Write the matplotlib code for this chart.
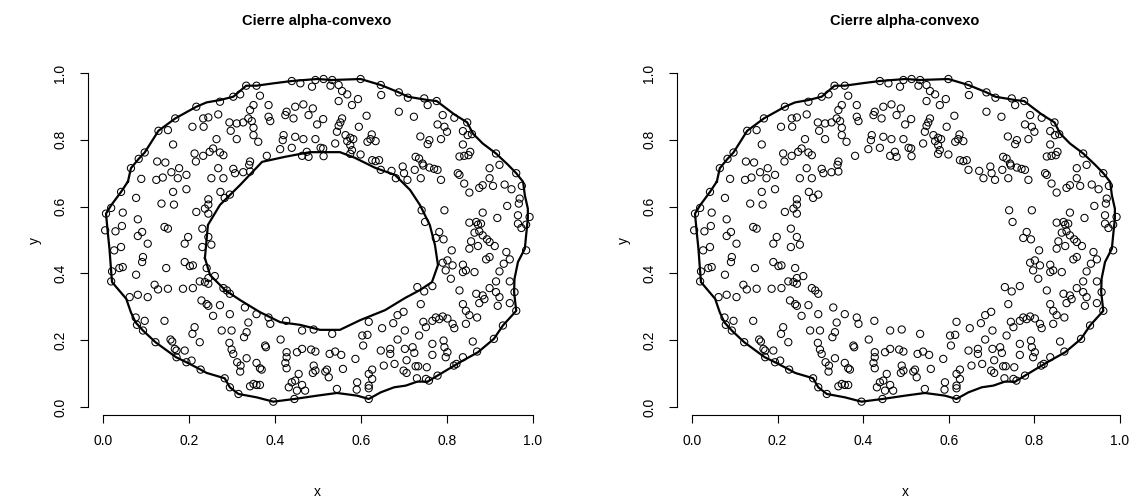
import matplotlib
matplotlib.use('Agg')
import matplotlib.pyplot as plt

plt.rcParams['font.family'] = ['Liberation Sans', 'DejaVu Sans']

title_text = 'Cierre alpha-convexo'
x_label = 'x'
y_label = 'y'
tick_values = [0.0, 0.2, 0.4, 0.6, 0.8, 1.0]
tick_labels = ['0.0', '0.2', '0.4', '0.6', '0.8', '1.0']

# sample points, grouped by region (x, y)
pts_upper_left = [
    (0.217, 0.899), (0.233, 0.864), (0.234, 0.839), (0.208, 0.839), (0.168, 0.864),
    (0.151, 0.829), (0.129, 0.827), (0.163, 0.786), (0.213, 0.759), (0.233, 0.752),
    (0.216, 0.735), (0.126, 0.735), (0.145, 0.732), (0.097, 0.762), (0.083, 0.743),
    (0.065, 0.715), (0.177, 0.715), (0.159, 0.703), (0.194, 0.695), (0.139, 0.687),
    (0.124, 0.680), (0.089, 0.683), (0.174, 0.685),
]
pts_upper_mid = [
    (0.333, 0.962), (0.357, 0.962), (0.439, 0.976), (0.459, 0.969), (0.486, 0.959),
    (0.494, 0.979), (0.272, 0.914), (0.303, 0.929), (0.319, 0.936), (0.365, 0.932),
    (0.342, 0.889), (0.350, 0.904), (0.385, 0.904), (0.427, 0.884), (0.447, 0.899),
    (0.466, 0.906), (0.488, 0.894), (0.478, 0.874), (0.245, 0.867), (0.268, 0.876),
    (0.294, 0.852), (0.311, 0.849), (0.326, 0.852), (0.338, 0.864), (0.346, 0.856),
    (0.385, 0.869), (0.389, 0.856), (0.424, 0.874), (0.443, 0.864), (0.297, 0.827),
    (0.350, 0.836), (0.498, 0.846), (0.311, 0.802), (0.350, 0.814), (0.361, 0.794),
    (0.420, 0.814), (0.418, 0.799), (0.447, 0.809), (0.466, 0.802), (0.494, 0.802),
    (0.264, 0.802), (0.256, 0.774), (0.248, 0.764), (0.272, 0.762), (0.280, 0.754),
    (0.412, 0.772), (0.439, 0.776), (0.474, 0.764), (0.463, 0.752), (0.478, 0.749),
    (0.381, 0.752), (0.342, 0.735), (0.340, 0.725), (0.268, 0.715), (0.303, 0.713),
    (0.307, 0.700), (0.326, 0.703), (0.342, 0.705), (0.252, 0.685), (0.280, 0.685),
]
pts_upper_right = [
    (0.513, 0.982), (0.533, 0.979), (0.599, 0.982), (0.646, 0.964), (0.688, 0.942),
    (0.709, 0.926), (0.747, 0.924), (0.529, 0.962), (0.548, 0.964), (0.556, 0.946),
    (0.568, 0.936), (0.548, 0.916), (0.579, 0.904), (0.593, 0.922), (0.647, 0.934),
    (0.613, 0.872), (0.688, 0.884), (0.723, 0.869), (0.512, 0.862), (0.556, 0.864),
    (0.552, 0.852), (0.548, 0.842), (0.595, 0.839), (0.544, 0.824), (0.564, 0.814),
    (0.575, 0.806), (0.582, 0.802), (0.568, 0.796), (0.540, 0.789), (0.575, 0.784),
    (0.625, 0.816), (0.622, 0.802), (0.634, 0.796), (0.615, 0.794), (0.738, 0.810),
    (0.506, 0.776), (0.512, 0.774), (0.513, 0.751), (0.579, 0.769), (0.575, 0.758),
    (0.599, 0.756), (0.626, 0.739), (0.642, 0.739), (0.634, 0.736), (0.727, 0.749),
    (0.735, 0.744), (0.743, 0.729), (0.646, 0.710), (0.671, 0.707), (0.697, 0.720),
    (0.700, 0.700), (0.725, 0.710), (0.745, 0.723), (0.681, 0.685), (0.708, 0.680),
    (0.739, 0.685),
]
pts_top_right = [
    (0.776, 0.916), (0.755, 0.904), (0.790, 0.874), (0.817, 0.866), (0.847, 0.852),
    (0.837, 0.826), (0.848, 0.814), (0.858, 0.817), (0.778, 0.846), (0.794, 0.839),
    (0.800, 0.824), (0.786, 0.802), (0.759, 0.799), (0.755, 0.787), (0.837, 0.786),
    (0.854, 0.764), (0.850, 0.754), (0.840, 0.752), (0.829, 0.750), (0.914, 0.759),
    (0.922, 0.725), (0.899, 0.715), (0.961, 0.700), (0.759, 0.717), (0.770, 0.713),
    (0.778, 0.710), (0.825, 0.700), (0.829, 0.695), (0.786, 0.680), (0.899, 0.685),
]
pts_mid_left = [
    (0.042, 0.644), (0.163, 0.644), (0.194, 0.652), (0.077, 0.626), (0.136, 0.609),
    (0.165, 0.606), (0.217, 0.584), (0.237, 0.594), (0.007, 0.579), (0.019, 0.596),
    (0.046, 0.582), (0.081, 0.562), (0.143, 0.539), (0.151, 0.534), (0.005, 0.529),
    (0.029, 0.526), (0.044, 0.542), (0.091, 0.524), (0.081, 0.512), (0.104, 0.489),
    (0.198, 0.509), (0.190, 0.489), (0.231, 0.534), (0.231, 0.479), (0.026, 0.469),
    (0.042, 0.479), (0.093, 0.449), (0.091, 0.434), (0.147, 0.416), (0.190, 0.434),
    (0.202, 0.422), (0.209, 0.424), (0.021, 0.406), (0.038, 0.416), (0.046, 0.419),
    (0.077, 0.396), (0.241, 0.416), (0.019, 0.376), (0.120, 0.366), (0.128, 0.352),
    (0.151, 0.354), (0.186, 0.354), (0.209, 0.356), (0.225, 0.376), (0.237, 0.374),
    (0.081, 0.336), (0.104, 0.329), (0.062, 0.329),
    (0.273, 0.644), (0.283, 0.626), (0.295, 0.636), (0.245, 0.622), (0.245, 0.606),
    (0.245, 0.579), (0.245, 0.509), (0.252, 0.486), (0.245, 0.386), (0.260, 0.392),
    (0.245, 0.369), (0.280, 0.356), (0.288, 0.349), (0.295, 0.339),
]
pts_mid_right = [
    (0.741, 0.589), (0.749, 0.554), (0.731, 0.359), (0.747, 0.346),
    (0.840, 0.669), (0.852, 0.642), (0.875, 0.656), (0.883, 0.664), (0.907, 0.662),
    (0.934, 0.666), (0.950, 0.652), (0.974, 0.662), (0.969, 0.624), (0.967, 0.609),
    (0.940, 0.602), (0.992, 0.569), (0.794, 0.589), (0.883, 0.582), (0.917, 0.566),
    (0.965, 0.574), (0.965, 0.549), (0.973, 0.536), (0.984, 0.546), (0.852, 0.552),
    (0.868, 0.554), (0.872, 0.546), (0.879, 0.549), (0.864, 0.522), (0.875, 0.526),
    (0.883, 0.514), (0.782, 0.524), (0.774, 0.506), (0.792, 0.502), (0.856, 0.496),
    (0.893, 0.502), (0.899, 0.494), (0.852, 0.474), (0.872, 0.482), (0.911, 0.482),
    (0.811, 0.469), (0.984, 0.469), (0.938, 0.464), (0.946, 0.442), (0.899, 0.449),
    (0.891, 0.442), (0.932, 0.429), (0.790, 0.432), (0.801, 0.439), (0.797, 0.409),
    (0.813, 0.424), (0.837, 0.426), (0.837, 0.404), (0.844, 0.409), (0.864, 0.404),
    (0.922, 0.406), (0.809, 0.384), (0.914, 0.376), (0.946, 0.376), (0.766, 0.362),
    (0.829, 0.349), (0.868, 0.339), (0.883, 0.334), (0.899, 0.356), (0.914, 0.344),
    (0.957, 0.344), (0.922, 0.329),
]
pts_lower_left = [
    (0.229, 0.319), (0.241, 0.308), (0.076, 0.268), (0.097, 0.258), (0.143, 0.258),
    (0.079, 0.246), (0.093, 0.229), (0.213, 0.239), (0.208, 0.219), (0.225, 0.194),
    (0.122, 0.194), (0.157, 0.202), (0.161, 0.196), (0.167, 0.174), (0.171, 0.169),
    (0.190, 0.169), (0.171, 0.149), (0.194, 0.134), (0.206, 0.139), (0.227, 0.112),
]
pts_lower_mid = [
    (0.245, 0.303), (0.272, 0.305), (0.256, 0.273), (0.295, 0.278), (0.330, 0.298),
    (0.357, 0.278), (0.385, 0.268), (0.389, 0.249), (0.426, 0.258), (0.338, 0.253),
    (0.276, 0.229), (0.299, 0.229), (0.334, 0.224), (0.328, 0.209), (0.463, 0.229),
    (0.490, 0.232), (0.294, 0.192), (0.299, 0.172), (0.303, 0.159), (0.377, 0.184),
    (0.379, 0.179), (0.413, 0.202), (0.427, 0.164), (0.427, 0.149), (0.451, 0.164),
    (0.463, 0.174), (0.484, 0.172), (0.494, 0.166), (0.334, 0.146), (0.312, 0.134),
    (0.320, 0.124), (0.319, 0.106), (0.357, 0.132), (0.365, 0.116), (0.369, 0.112),
    (0.424, 0.132), (0.427, 0.116), (0.490, 0.124), (0.488, 0.102), (0.494, 0.109),
    (0.283, 0.086), (0.295, 0.059), (0.315, 0.039), (0.342, 0.062), (0.350, 0.069),
    (0.357, 0.066), (0.365, 0.066), (0.432, 0.059), (0.439, 0.074), (0.455, 0.099),
    (0.447, 0.079), (0.463, 0.066), (0.451, 0.049), (0.470, 0.049), (0.445, 0.024),
    (0.396, 0.016),
]
pts_lower_right = [
    (0.739, 0.308), (0.699, 0.285), (0.685, 0.275), (0.618, 0.255), (0.649, 0.236),
    (0.675, 0.251), (0.702, 0.229), (0.745, 0.255), (0.751, 0.239), (0.533, 0.219),
    (0.603, 0.214), (0.615, 0.216), (0.735, 0.214), (0.685, 0.202), (0.605, 0.184),
    (0.646, 0.169), (0.668, 0.174), (0.668, 0.159), (0.702, 0.174), (0.720, 0.179),
    (0.724, 0.162), (0.527, 0.159), (0.540, 0.166), (0.554, 0.156), (0.587, 0.144),
    (0.706, 0.140), (0.678, 0.129), (0.653, 0.124), (0.727, 0.122), (0.733, 0.122),
    (0.753, 0.119), (0.521, 0.112), (0.525, 0.089), (0.558, 0.114), (0.517, 0.106),
    (0.626, 0.112), (0.618, 0.099), (0.626, 0.084), (0.699, 0.109), (0.706, 0.102),
    (0.618, 0.064), (0.618, 0.056), (0.618, 0.024), (0.591, 0.074), (0.590, 0.052),
    (0.544, 0.054), (0.730, 0.086), (0.751, 0.084),
]
pts_bottom_right = [
    (0.875, 0.311), (0.887, 0.323), (0.946, 0.311), (0.918, 0.303), (0.961, 0.288),
    (0.837, 0.308), (0.844, 0.288), (0.852, 0.275), (0.870, 0.268), (0.774, 0.268),
    (0.782, 0.263), (0.790, 0.271), (0.801, 0.265), (0.813, 0.249), (0.817, 0.236),
    (0.844, 0.249), (0.766, 0.258), (0.930, 0.244), (0.860, 0.196), (0.909, 0.204),
    (0.766, 0.189), (0.766, 0.156), (0.792, 0.199), (0.794, 0.179), (0.801, 0.164),
    (0.797, 0.149), (0.870, 0.166), (0.837, 0.149), (0.822, 0.129), (0.816, 0.124),
    (0.778, 0.094), (0.758, 0.079),
]

# alpha-convex hull boundaries
outer_boundary = [
    (0.058, 0.675), (0.065, 0.715), (0.083, 0.743), (0.097, 0.762), (0.129, 0.827),
    (0.168, 0.864), (0.217, 0.899), (0.241, 0.912), (0.272, 0.919), (0.303, 0.929),
    (0.333, 0.962), (0.357, 0.962), (0.396, 0.969), (0.439, 0.976), (0.498, 0.982),
    (0.533, 0.979), (0.599, 0.982), (0.646, 0.964), (0.688, 0.942), (0.709, 0.929),
    (0.755, 0.919), (0.776, 0.916), (0.817, 0.876), (0.847, 0.852), (0.860, 0.819),
    (0.883, 0.789), (0.914, 0.759), (0.942, 0.725), (0.961, 0.700), (0.977, 0.674),
    (0.981, 0.634), (0.988, 0.594), (0.988, 0.564), (0.984, 0.514), (0.981, 0.474),
    (0.965, 0.434), (0.957, 0.384), (0.956, 0.344), (0.961, 0.288), (0.930, 0.244),
    (0.909, 0.204), (0.872, 0.164), (0.837, 0.139), (0.817, 0.124), (0.778, 0.094),
    (0.755, 0.076), (0.731, 0.076), (0.704, 0.064), (0.677, 0.059), (0.646, 0.044),
    (0.618, 0.024), (0.591, 0.034), (0.544, 0.042), (0.498, 0.034), (0.445, 0.024),
    (0.396, 0.016), (0.357, 0.029), (0.315, 0.039), (0.295, 0.059), (0.283, 0.086),
    (0.241, 0.102), (0.227, 0.112), (0.194, 0.134), (0.170, 0.149), (0.122, 0.194),
    (0.093, 0.229), (0.076, 0.253), (0.065, 0.283), (0.054, 0.324), (0.021, 0.374),
    (0.019, 0.406), (0.015, 0.474), (0.011, 0.524), (0.007, 0.579), (0.019, 0.604),
    (0.042, 0.644),
]
inner_boundary = [
    (0.237, 0.446), (0.244, 0.545), (0.272, 0.605), (0.319, 0.665), (0.370, 0.734),
    (0.423, 0.749), (0.481, 0.763), (0.551, 0.763), (0.586, 0.746), (0.633, 0.716),
    (0.679, 0.695), (0.714, 0.650), (0.737, 0.605), (0.760, 0.545), (0.772, 0.485),
    (0.779, 0.425), (0.765, 0.374), (0.737, 0.350), (0.702, 0.326), (0.656, 0.290),
    (0.598, 0.260), (0.551, 0.231), (0.505, 0.231), (0.458, 0.246), (0.412, 0.254),
    (0.365, 0.284), (0.319, 0.320), (0.284, 0.350), (0.249, 0.395),
]

groups = [pts_upper_left, pts_upper_mid, pts_upper_right, pts_top_right, pts_mid_left,
          pts_mid_right, pts_lower_left, pts_lower_mid, pts_lower_right, pts_bottom_right]
px = [p[0] for g in groups for p in g]
py = [p[1] for g in groups for p in g]

W, H = 1140, 501
fig = plt.figure(figsize=(W / 100, H / 100), dpi=100)

XLIM = (-0.035, 1.03)
YLIM = (-0.024, 1.024)


def make_axes(x0_px, scale_x):
    sy = 334.0
    y0_px = 407.0
    left = x0_px + scale_x * XLIM[0]
    right = x0_px + scale_x * XLIM[1]
    bottom = y0_px - sy * YLIM[0]
    top = y0_px - sy * YLIM[1]
    ax = fig.add_axes([left / W, 1 - bottom / H, (right - left) / W, (bottom - top) / H])
    ax.set_xlim(*XLIM)
    ax.set_ylim(*YLIM)
    for s in ['top', 'right']:
        ax.spines[s].set_visible(False)
    ax.spines['left'].set_bounds(0, 1)
    ax.spines['bottom'].set_bounds(0, 1)
    for s in ['left', 'bottom']:
        ax.spines[s].set_linewidth(0.8)
    ax.set_xticks(tick_values)
    ax.set_xticklabels(tick_labels)
    ax.set_yticks(tick_values)
    ax.set_yticklabels(tick_labels, rotation=90, va='center')
    ax.tick_params(axis='both', direction='out', length=5.5, width=0.8,
                   labelsize=10)
    ax.tick_params(axis='x', pad=8)
    ax.tick_params(axis='y', pad=9.5)
    ax.set_title(title_text, fontsize=10.5, fontweight='bold', pad=29)
    ax.set_xlabel(x_label, fontsize=10, labelpad=27)
    ax.set_ylabel(y_label, fontsize=10, labelpad=8)
    ax.scatter(px, py, s=27, facecolors='none', edgecolors='black', linewidths=0.75, zorder=3)
    return ax


def draw_loop(ax, pts):
    xs = [p[0] for p in pts] + [pts[0][0]]
    ys = [p[1] for p in pts] + [pts[0][1]]
    ax.plot(xs, ys, color='black', lw=1.6, solid_joinstyle='round', zorder=4)


ax1 = make_axes(103.0, 430.0)
draw_loop(ax1, outer_boundary)
draw_loop(ax1, inner_boundary)

ax2 = make_axes(692.0, 428.0)
draw_loop(ax2, outer_boundary)

fig.savefig('out.png', dpi=100)
